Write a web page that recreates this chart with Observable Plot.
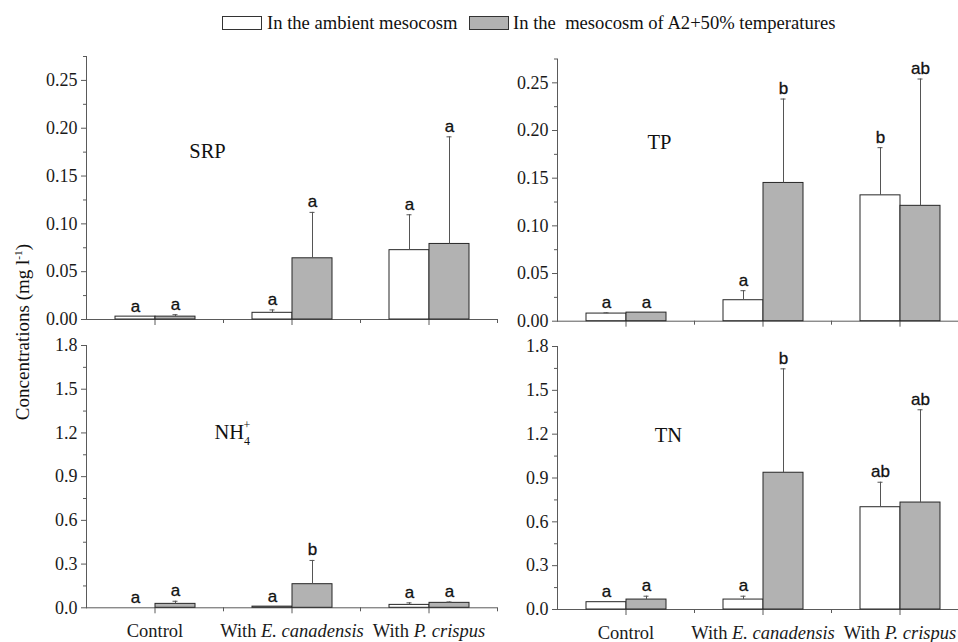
<!DOCTYPE html>
<html><head><meta charset="utf-8">
<script src="https://cdn.jsdelivr.net/npm/d3@7"></script>
<script src="https://cdn.jsdelivr.net/npm/@observablehq/plot@0.6"></script>
<style>
html,body{margin:0;padding:0;background:#fff;}
#chart{position:relative;width:958px;height:642px;overflow:hidden;background:#fff;font-family:"Liberation Serif","Times New Roman",serif;color:#111;}
.panel{position:absolute;}
.panel svg{background:transparent !important;overflow:visible;max-width:none !important;display:block;}
.legend-box{position:absolute;width:40px;height:14px;border:1px solid #333;box-sizing:border-box;}
.legend-text{position:absolute;font-size:18.6px;white-space:pre;line-height:20px;}
#ylabel{position:absolute;left:23px;top:332px;transform:translate(-50%,-50%) rotate(-90deg);font-size:19px;white-space:nowrap;}
#ylabel sup{font-size:0.6em;}
</style></head><body>
<div id="chart">
  <div class="legend-box" style="left:222px;top:16px;background:#ffffff"></div>
  <div class="legend-text" id="leg1" style="left:267px;top:13px"></div>
  <div class="legend-box" style="left:469px;top:16px;background:#b2b2b2"></div>
  <div class="legend-text" id="leg2" style="left:513px;top:13px"></div>
  <div id="ylabel">Concentrations (mg l<sup>-1</sup>)</div>
  <div class="panel" id="p-srp" style="left:0px;top:45px;width:500px;height:300px"></div>
  <div class="panel" id="p-tp" style="left:480px;top:45px;width:490px;height:300px"></div>
  <div class="panel" id="p-nh4" style="left:0px;top:330px;width:500px;height:312px"></div>
  <div class="panel" id="p-tn" style="left:480px;top:330px;width:490px;height:312px"></div>
</div>
<script>
// ---- data ----
const categories = ["Control", "With E. canadensis", "With P. crispus"];
const seriesKeys = ["ambient", "warm"];
const seriesNames = ["In the ambient mesocosm", "In the  mesocosm of A2+50% temperatures"];

const srpAmbient = [0.003, 0.007, 0.0725];
const srpAmbientErr = [0, 0.003, 0.037];
const srpWarm = [0.003, 0.064, 0.079];
const srpWarmErr = [0.002, 0.048, 0.112];
const srpLettersAmbient = ["a", "a", "a"];
const srpLettersWarm = ["a", "a", "a"];

const tpAmbient = [0.008, 0.022, 0.132];
const tpAmbientErr = [0.0008, 0.010, 0.050];
const tpWarm = [0.009, 0.145, 0.121];
const tpWarmErr = [0, 0.088, 0.133];
const tpLettersAmbient = ["a", "a", "b"];
const tpLettersWarm = ["a", "b", "ab"];

const nh4Ambient = [0.0, 0.008, 0.02];
const nh4AmbientErr = [0, 0, 0.014];
const nh4Warm = [0.027, 0.162, 0.034];
const nh4WarmErr = [0.018, 0.163, 0.006];
const nh4LettersAmbient = ["a", "a", "a"];
const nh4LettersWarm = ["a", "b", "a"];

const tnAmbient = [0.05, 0.068, 0.70];
const tnAmbientErr = [0, 0.023, 0.171];
const tnWarm = [0.068, 0.936, 0.732];
const tnWarmErr = [0.023, 0.711, 0.635];
const tnLettersAmbient = ["a", "a", "ab"];
const tnLettersWarm = ["a", "b", "ab"];

const phosphorusDomain = [0, 0.275];
const phosphorusTicks = [0, 0.05, 0.10, 0.15, 0.20, 0.25];
const phosphorusMinorTicks = [0.025, 0.075, 0.125, 0.175, 0.225, 0.275];
const nitrogenDomain = [0, 1.8];
const nitrogenTicks = [0, 0.3, 0.6, 0.9, 1.2, 1.5, 1.8];
const nitrogenMinorTicks = [0.15, 0.45, 0.75, 1.05, 1.35, 1.65];

// ---- build ----
document.getElementById("leg1").textContent = seriesNames[0];
document.getElementById("leg2").textContent = seriesNames[1];

function makeRows(amb, ambErr, ambL, warm, warmErr, warmL) {
  const out = [];
  categories.forEach((c, i) => {
    out.push({category: c, series: seriesKeys[0], value: amb[i], err: ambErr[i], letter: ambL[i]});
    out.push({category: c, series: seriesKeys[1], value: warm[i], err: warmErr[i], letter: warmL[i]});
  });
  return out;
}

const AXIS = "#5a5a5a";
const SERIF = "Liberation Serif";
const SANS = "Liberation Sans";

function panel(cfg) {
  const {data, label, domain, ticks, minor, fmt, width, height, mt, mb, ml, mr, showLabels, ldx, ldy, lanchor} = cfg;
  const innerH = height - mt - mb;
  const withErr = data.filter(d => d.err > 0);
  return Plot.plot({
    width, height, marginTop: mt, marginBottom: mb, marginLeft: ml, marginRight: mr,
    style: {fontFamily: SERIF, fontSize: "17.5px", background: "transparent", color: "#1a1a1a", overflow: "visible"},
    fx: {domain: categories, padding: 0, label: null, axis: null},
    x: {domain: seriesKeys, paddingInner: 0, paddingOuter: 0.675, axis: null},
    y: {domain, label: null, axis: null},
    color: {domain: seriesKeys, range: ["#ffffff", "#b2b2b2"]},
    marks: [
      Plot.ruleY([0], {stroke: AXIS}),
      Plot.frame({anchor: "left", facetAnchor: "left", stroke: AXIS}),
      Plot.frame({anchor: "right", insetTop: innerH, insetBottom: -3, stroke: AXIS}),
      Plot.axisY({ticks, tickFormat: () => "", tickSize: 5, stroke: AXIS}),
      Plot.text(ticks, {y: d => d, text: fmt, frameAnchor: "left", textAnchor: "end", dx: -9, facetAnchor: "left",
                        fontFamily: SERIF, fontSize: 18, fill: "#1a1a1a"}),
      Plot.axisY({ticks: minor, tickFormat: () => "", tickSize: 3, stroke: AXIS}),
      Plot.axisFx({anchor: "bottom", tickSize: 6, tickFormat: () => "", stroke: AXIS, label: null}),
      ...(showLabels ? [Plot.text(categories, {fx: d => d, text: d => d, frameAnchor: "bottom", lineAnchor: "top", dy: 16,
                        fontFamily: SERIF, fontSize: 18.5, fill: "#1a1a1a"})] : []),
      Plot.barY(data, {fx: "category", x: "series", y: "value", fill: "series", stroke: "#262626", strokeWidth: 1}),
      Plot.ruleX(withErr, {fx: "category", x: "series", y1: "value", y2: d => d.value + d.err, stroke: "#555"}),
      Plot.tickY(withErr, {fx: "category", x: "series", y: d => d.value + d.err, insetLeft: 17.5, insetRight: 17.5, stroke: "#555"}),
      Plot.text(data, {fx: "category", x: "series", y: d => d.value + d.err, text: "letter", dy: -10.5,
                       fontFamily: SANS, fontSize: 17, fill: "#111", stroke: "#111", strokeWidth: 0.3}),
      Plot.text([{category: categories[0], label}], {fx: "category", text: "label", frameAnchor: "top-left",
                       dx: ldx, dy: ldy, textAnchor: lanchor, fontSize: 20.5, fontFamily: SERIF, fill: "#111"})
    ]
  });
}

function decorate(svg) {
  d3.select(svg).selectAll("text").each(function () {
    const t = this.textContent;
    if (t === categories[1] || t === categories[2]) {
      const rest = t.slice(5);
      const sel = d3.select(this);
      sel.text(null);
      sel.append("tspan").text("With ");
      sel.append("tspan").attr("font-style", "italic").text(rest);
    } else if (t === "NH4+") {
      const sel = d3.select(this);
      sel.text(null);
      sel.append("tspan").text("NH");
      sel.append("tspan").attr("dy", 6).attr("font-size", 12).text("4");
      sel.append("tspan").attr("dx", -6.5).attr("dy", -16).attr("font-size", 12).text("+");
    }
  });
  return svg;
}

const panels = [
  {id: "p-srp", data: makeRows(srpAmbient, srpAmbientErr, srpLettersAmbient, srpWarm, srpWarmErr, srpLettersWarm),
   label: "SRP", domain: phosphorusDomain, ticks: phosphorusTicks, minor: phosphorusMinorTicks, fmt: d3.format(".2f"),
   width: 500, height: 300, mt: 11, mb: 26, ml: 85, mr: 3, showLabels: false, ldx: 121, ldy: 87, lanchor: "middle"},
  {id: "p-tp", data: makeRows(tpAmbient, tpAmbientErr, tpLettersAmbient, tpWarm, tpWarmErr, tpLettersWarm),
   label: "TP", domain: phosphorusDomain, ticks: phosphorusTicks, minor: phosphorusMinorTicks, fmt: d3.format(".2f"),
   width: 490, height: 300, mt: 13.5, mb: 24.3, ml: 77, mr: 2, showLabels: false, ldx: 102, ldy: 75.5, lanchor: "middle"},
  {id: "p-nh4", data: makeRows(nh4Ambient, nh4AmbientErr, nh4LettersAmbient, nh4Warm, nh4WarmErr, nh4LettersWarm),
   label: "NH4+", domain: nitrogenDomain, ticks: nitrogenTicks, minor: nitrogenMinorTicks, fmt: d3.format(".1f"),
   width: 500, height: 312, mt: 15, mb: 34.7, ml: 85, mr: 3, showLabels: true, ldx: 128, ldy: 79, lanchor: "start"},
  {id: "p-tn", data: makeRows(tnAmbient, tnAmbientErr, tnLettersAmbient, tnWarm, tnWarmErr, tnLettersWarm),
   label: "TN", domain: nitrogenDomain, ticks: nitrogenTicks, minor: nitrogenMinorTicks, fmt: d3.format(".1f"),
   width: 490, height: 312, mt: 16, mb: 33, ml: 77, mr: 2, showLabels: true, ldx: 111, ldy: 81, lanchor: "middle"}
];

for (const p of panels) {
  document.getElementById(p.id).appendChild(decorate(panel(p)));
}
</script>
</body></html>
